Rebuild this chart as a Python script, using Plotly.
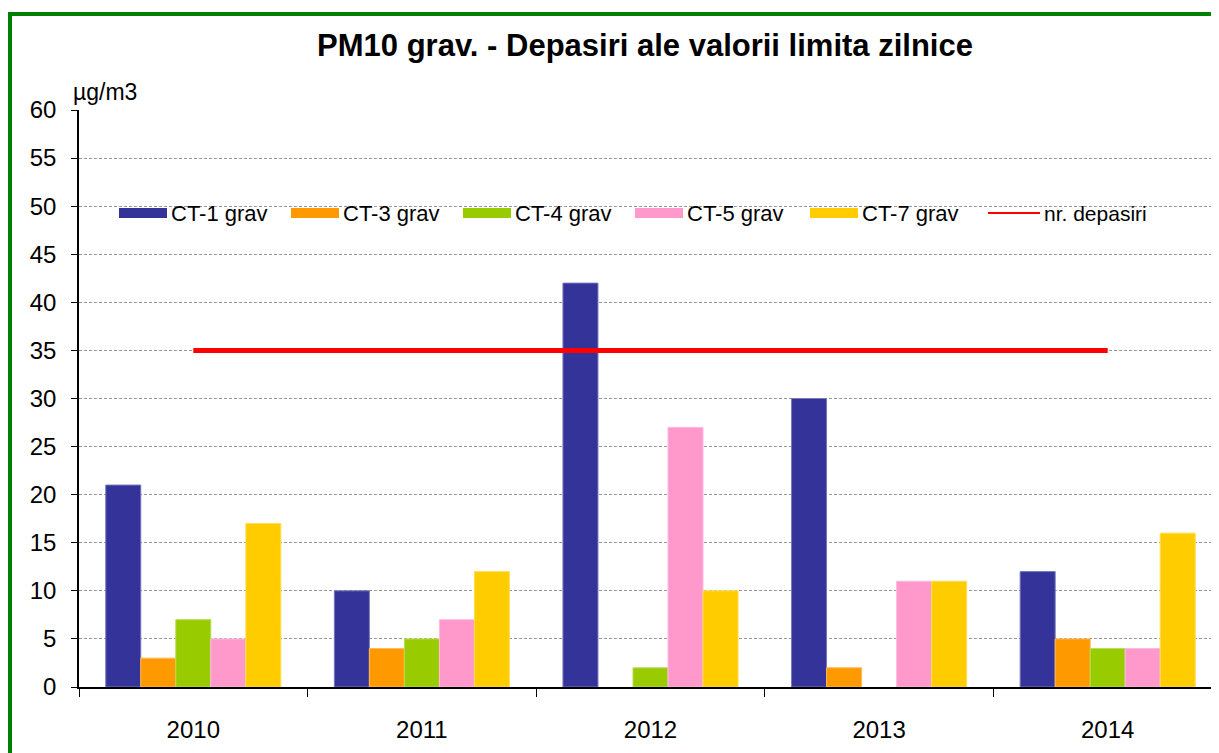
import plotly.graph_objects as go

years = ["2010", "2011", "2012", "2013", "2014"]
series_names = ["CT-1 grav", "CT-3 grav", "CT-4 grav", "CT-5 grav", "CT-7 grav"]
ct1 = [21, 10, 42, 30, 12]
ct3 = [3, 4, None, 2, 5]
ct4 = [7, 5, 2, None, 4]
ct5 = [5, 7, 27, 11, 4]
ct7 = [17, 12, 10, 11, 16]
limit_name = "nr. depasiri"
limit_vals = [35, 35, 35, 35, 35]
colors = ["#333399", "#FF9900", "#99CC00", "#FF99CC", "#FFCC00"]
edge_colors = ["#7777BB", "#FFBB55", "#BBDD55", "#FFBBDD", "#FFDD55"]

FONT = "Liberation Sans, Arial, sans-serif"
OFF = 8  # page body margin
W, H = 1219, 753
L, T = 79 - OFF, 110 - OFF
R = W - (1222 - OFF)
B = H - (687 - OFF)
pw, ph = W - L - R, H - T - B

def px(x):  # page x -> paper
    return (x - OFF - L) / pw

def py(y):  # page y -> paper
    return (H - B - (y - OFF)) / ph

fig = go.Figure()
for name, vals, c, ec in zip(series_names, [ct1, ct3, ct4, ct5, ct7], colors, edge_colors):
    fig.add_trace(go.Bar(x=years, y=vals, name=name, marker=dict(color=c, line=dict(color=ec, width=1)),
                         showlegend=False))
fig.add_trace(go.Scatter(x=years, y=limit_vals, name=limit_name, mode="lines",
                         line=dict(color="#FF0000", width=5), showlegend=False))

shapes = []
annotations = []
leg_x = [119, 291, 463, 635, 810]
ly = 213
for i, (name, c) in enumerate(zip(series_names, colors)):
    shapes.append(dict(type="rect", xref="paper", yref="paper",
                       x0=px(leg_x[i]), x1=px(leg_x[i] + 48), y0=py(ly + 5), y1=py(ly - 5),
                       fillcolor=c, line=dict(width=0)))
    annotations.append(dict(text=name, xref="paper", yref="paper", x=px(leg_x[i] + 50), y=py(ly),
                            xanchor="left", yanchor="middle", showarrow=False,
                            font=dict(family=FONT, size=22, color="#000")))
shapes.append(dict(type="line", xref="paper", yref="paper", x0=px(988), x1=px(1040), y0=py(ly), y1=py(ly),
                   line=dict(color="#FF0000", width=2)))
annotations.append(dict(text=limit_name, xref="paper", yref="paper", x=px(1042), y=py(ly),
                        xanchor="left", yanchor="middle", showarrow=False,
                        font=dict(family=FONT, size=21, color="#000")))
shapes.append(dict(type="rect", xref="paper", yref="paper", x0=px(10), x1=px(1260), y0=py(14), y1=py(800),
                   line=dict(color="#008000", width=4), fillcolor="rgba(0,0,0,0)", layer="below"))
annotations.append(dict(text="µg/m3", xref="paper", yref="paper", x=px(71), y=py(92),
                        xanchor="left", yanchor="middle", showarrow=False,
                        font=dict(family=FONT, size=23, color="#000")))

fig.update_layout(
    width=W, height=H,
    margin=dict(l=L, r=R, t=T, b=B),
    paper_bgcolor="white", plot_bgcolor="white",
    barmode="group", bargap=0.234, bargroupgap=0,
    title=dict(text="<b>PM10 grav. - Depasiri ale valorii limita zilnice</b>",
               x=(645 - OFF) / W, xanchor="center", y=1 - (45 - OFF) / H, yanchor="middle",
               font=dict(family=FONT, size=31, color="#000")),
    font=dict(family=FONT, size=23, color="#000"),
    shapes=shapes, annotations=annotations,
    xaxis=dict(type="category", showgrid=False, showline=True, linecolor="#000", linewidth=1.5,
               ticks="outside", tickson="boundaries", ticklen=8, tickcolor="#000",
               ticklabelstandoff=20, tickfont=dict(family=FONT, size=24)),
    yaxis=dict(range=[0, 60], dtick=5, showgrid=True, gridcolor="#999999", griddash="3px,2px", gridwidth=1,
               showline=True, linecolor="#000", linewidth=1.5, ticks="outside", ticklen=6, tickcolor="#000",
               ticklabelstandoff=10, tickfont=dict(family=FONT, size=24), zeroline=False),
)
fig.write_html("out.html")
